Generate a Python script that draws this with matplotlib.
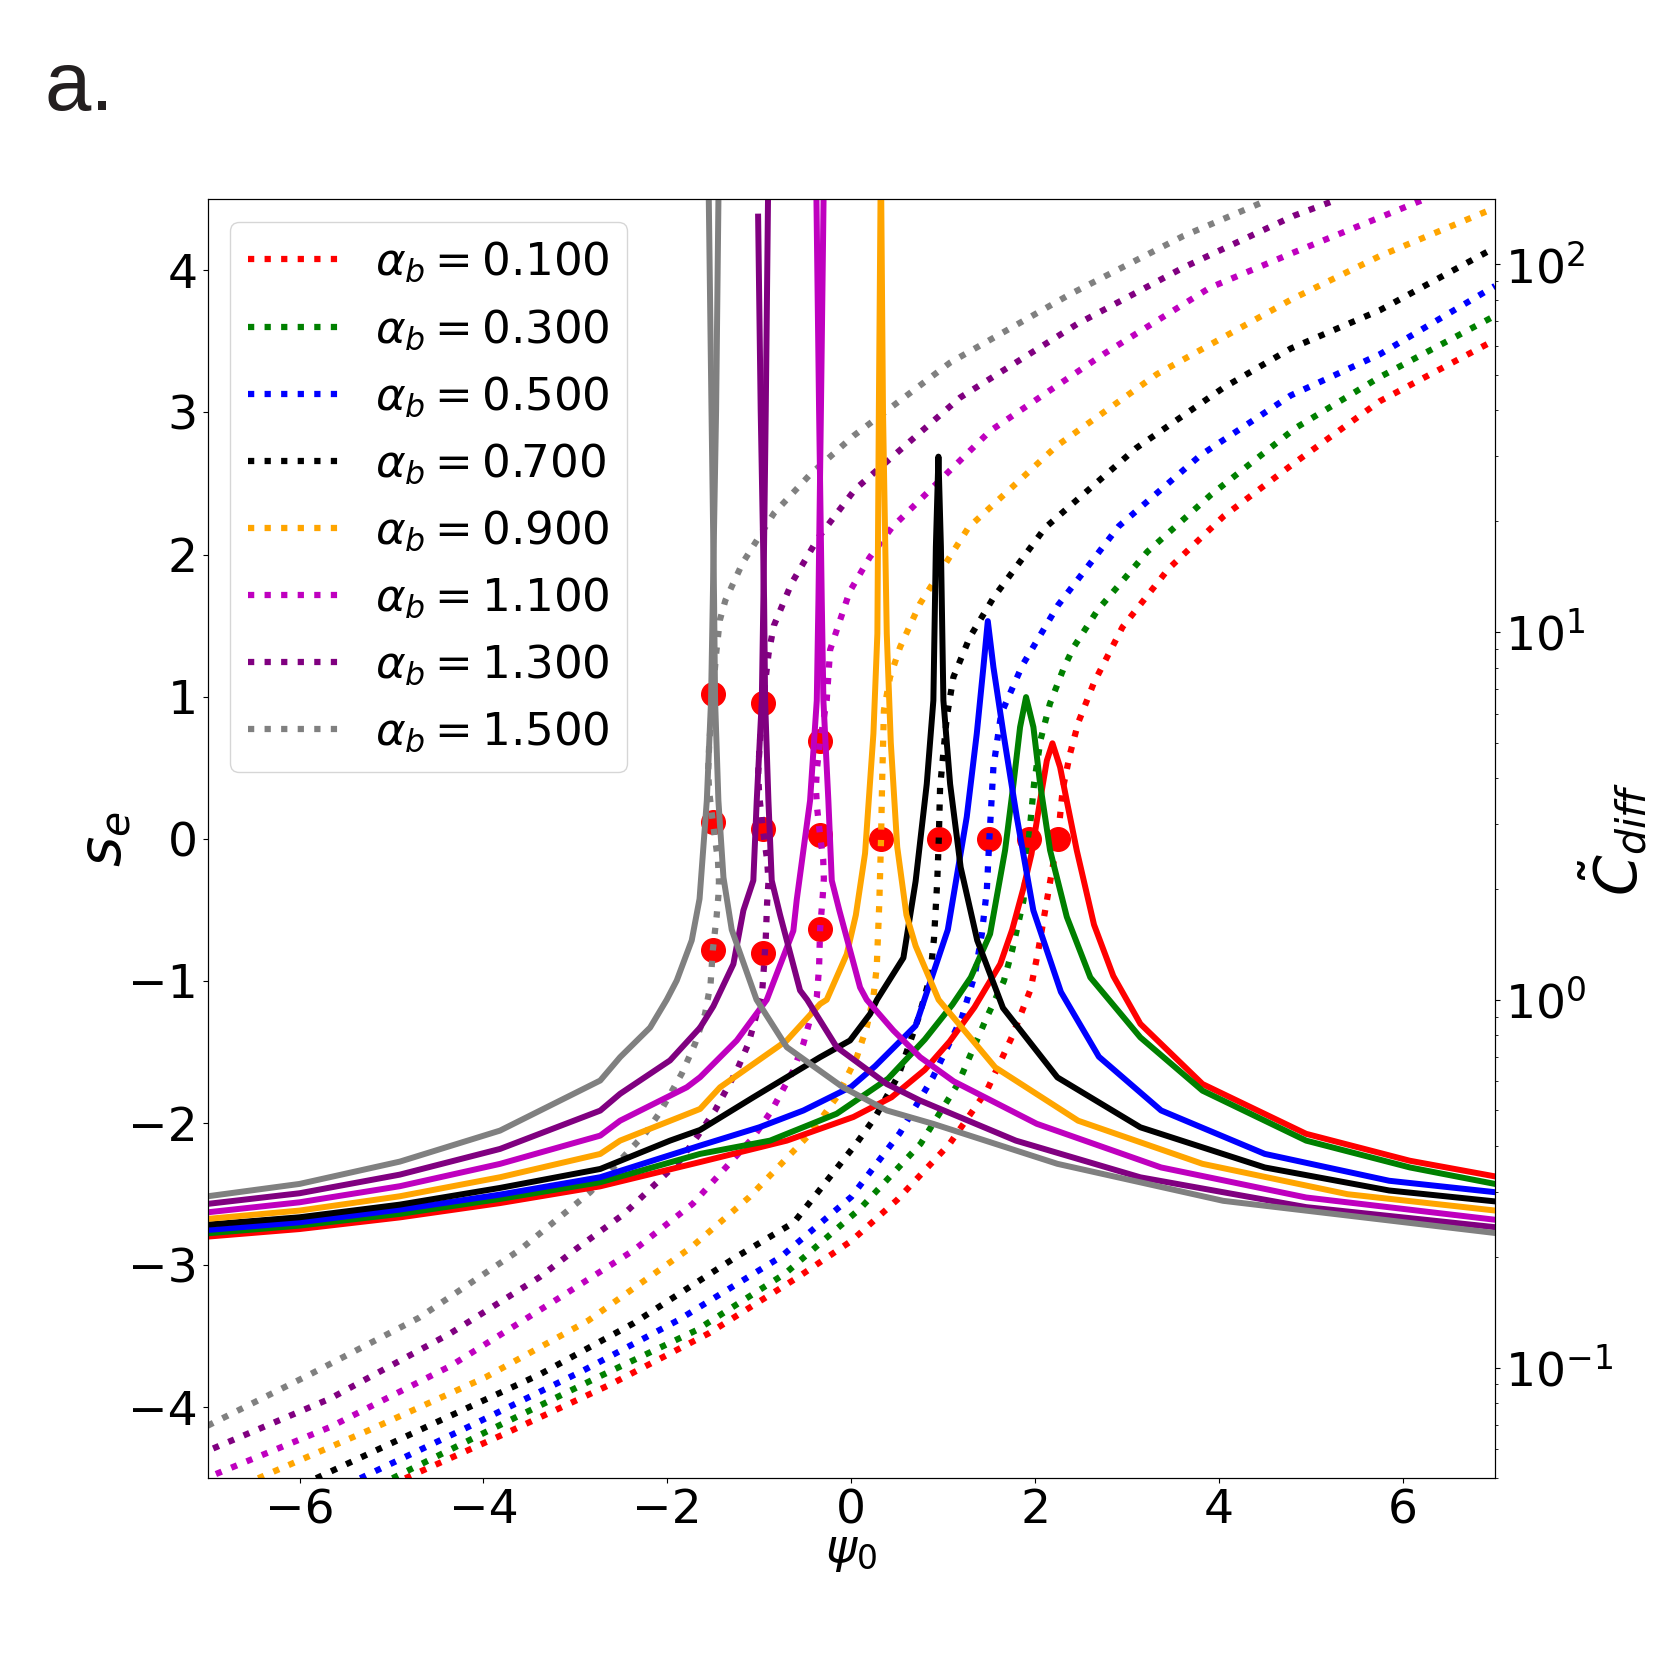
import matplotlib
matplotlib.use("Agg")
import matplotlib.pyplot as plt

# alpha_b values and colours, one per curve pair
alpha_values = [0.1, 0.3, 0.5, 0.7, 0.9, 1.1, 1.3, 1.5]
line_colors = ['red', 'green', 'blue', 'black', 'orange', 'm', 'purple', 'gray']

# ---- s_e against psi_0 (dotted, left axis) ----
se_psi_a01 = [-4.85, -3.78, -2.62, -1.55, -0.58, 0.0, 0.50, 1.07, 1.475, 1.746, 1.95, 2.03, 2.11, 2.19, 2.246,
              2.30, 2.38, 2.47, 2.64, 2.95, 3.45, 4.05, 4.83, 5.75, 7.0]
se_a01 = [-4.5, -4.19, -3.84, -3.48, -3.085, -2.83, -2.54, -2.146, -1.771, -1.396, -1.06, -0.80, -0.50, -0.20, 0.0,
          0.35, 0.60, 0.82, 1.10, 1.49, 1.90, 2.27, 2.65, 3.08, 3.51]

se_psi_a03 = [-4.99, -3.93, -2.76, -1.69, -0.72, 0.10, 0.754, 1.16, 1.475, 1.66, 1.75, 1.873, 1.931, 1.99, 2.06,
              2.16, 2.31, 2.42, 2.68, 3.22, 3.91, 4.83, 5.75, 7.0]
se_a03 = [-4.5, -4.16, -3.79, -3.46, -3.06, -2.60, -2.146, -1.724, -1.255, -1.0, -0.785, -0.433, 0.0, 0.40, 0.70,
          0.95, 1.20, 1.35, 1.61, 2.02, 2.42, 2.89, 3.25, 3.68]

se_psi_a05 = [-5.34, -4.17, -2.91, -1.89, -0.77, 0.0, 0.529, 0.889, 1.204, 1.347, 1.42, 1.474, 1.502, 1.546, 1.63,
              1.86, 2.25, 2.91, 3.80, 4.78, 5.75, 7.0]
se_a05 = [-4.5, -4.14, -3.74, -3.39, -2.944, -2.52, -2.07, -1.677, -1.255, -0.949, -0.668, -0.363, 0.0, 0.505, 0.88,
          1.22, 1.645, 2.20, 2.70, 3.12, 3.41, 3.89]

se_psi_a07 = [-5.82, -4.56, -3.39, -2.37, -1.256, -0.624, 0.06, 0.259, 0.513, 0.731, 0.857, 0.90, 0.935, 0.952,
              0.966, 1.039, 1.111, 1.29, 1.55, 2.11, 3.10, 4.05, 4.78, 5.75, 7.0]
se_a07 = [-4.5, -4.12, -3.77, -3.41, -2.944, -2.70, -2.14, -1.96, -1.665, -1.26, -0.973, -0.70, -0.30, 0.0,
          0.364, 0.857, 1.138, 1.42, 1.70, 2.19, 2.75, 3.175, 3.45, 3.72, 4.16]

se_psi_a09 = [-6.45, -5.24, -3.98, -2.86, -1.74, -1.11, -0.448, -0.158, 0.06, 0.168, 0.241, 0.277, 0.305, 0.324,
              0.336, 0.355, 0.422, 0.531, 0.748, 1.274, 2.235, 3.323, 4.791, 5.745, 7.0]
se_a09 = [-4.5, -4.16, -3.79, -3.39, -2.874, -2.522, -2.076, -1.818, -1.536, -1.325, -1.114, -0.903, -0.45, 0.0,
          0.41, 0.904, 1.138, 1.349, 1.655, 2.19, 2.765, 3.269, 3.797, 4.10, 4.44]

se_psi_a11 = [-6.91, -5.67, -4.36, -3.15, -2.37, -1.724, -1.065, -0.865, -0.63, -0.521, -0.43, -0.375, -0.35,
              -0.339, -0.31, -0.298, -0.305, -0.339, -0.372, -0.385, -0.372, -0.339, -0.267, -0.23, -0.017, 0.20,
              0.441, 1.51, 2.742, 3.903, 4.808, 6.205]
se_a11 = [-4.47, -4.14, -3.71, -3.22, -2.897, -2.568, -2.10, -1.911, -1.63, -1.442, -1.231, -1.114, -0.903,
          -0.638, -0.40, -0.28, -0.15, 0.024, 0.22, 0.36, 0.50, 0.688, 0.974, 1.33, 1.74, 1.98,
          2.19, 2.87, 3.41, 3.879, 4.125, 4.493]

se_psi_a13 = [-6.94, -5.67, -4.36, -3.39, -2.99, -2.47, -2.224, -1.863, -1.68, -1.481, -1.245, -1.119, -1.028,
              -0.973, -0.95, -0.93, -0.915, -0.90, -0.915, -0.962, -1.0, -1.013, -1.0, -0.962, -0.90, -0.842,
              -0.648, -0.357, 0.041, 1.184, 2.453, 3.612, 4.808, 5.29]
se_a13 = [-4.29, -3.94, -3.48, -3.085, -2.885, -2.639, -2.487, -2.264, -2.10, -1.911, -1.63, -1.442, -1.231,
          -1.114, -0.903, -0.70, -0.45, -0.30, -0.15, 0.071, 0.30, 0.45, 0.62, 0.955, 1.30, 1.50,
          1.80, 2.12, 2.459, 3.105, 3.621, 4.02, 4.383, 4.5]

se_psi_a15 = [-7.0, -5.92, -4.70, -3.60, -2.84, -2.243, -2.08, -1.844, -1.699, -1.59, -1.53, -1.506, -1.465,
              -1.445, -1.439, -1.45, -1.506, -1.545, -1.556, -1.546, -1.506, -1.47, -1.43, -1.369, -1.182,
              -0.842, -0.453, 0.023, 1.075, 2.38, 3.612, 4.482]
se_a15 = [-4.13, -3.78, -3.37, -2.89, -2.487, -2.076, -1.924, -1.653, -1.442, -1.231, -1.02, -0.785, -0.55,
          -0.40, -0.30, -0.15, 0.118, 0.33, 0.48, 0.65, 1.016, 1.30, 1.537, 1.678, 1.941,
          2.29, 2.56, 2.835, 3.351, 3.832, 4.242, 4.482]

# ---- C_diff against psi_0 (solid, right log axis) ----
cd_psi_a01 = [-7.0, -6.0, -4.91, -3.82, -2.73, -1.644, -0.701, 0.023, 0.438, 0.80, 1.07, 1.34, 1.62, 1.75, 1.87,
              1.96, 2.054, 2.127, 2.188, 2.271, 2.343, 2.452, 2.64, 2.85, 3.144, 3.82, 4.947, 6.075, 7.0]
cd_a01 = [0.227, 0.238, 0.256, 0.280, 0.311, 0.362, 0.414, 0.48, 0.543, 0.645, 0.77, 0.954, 1.25, 1.55, 2.0,
          2.49, 3.48, 4.47, 4.98, 4.29, 3.48, 2.55, 1.60, 1.16, 0.86, 0.59, 0.432, 0.365, 0.331]

cd_psi_a03 = [-7.0, -6.0, -4.91, -3.82, -2.73, -1.644, -0.883, -0.158, 0.40, 0.80, 1.10, 1.30, 1.51, 1.673,
              1.764, 1.836, 1.901, 1.981, 2.054, 2.162, 2.344, 2.60, 3.144, 3.82, 4.947, 6.075, 7.0]
cd_a03 = [0.2317, 0.2432, 0.2617, 0.2874, 0.3191, 0.381, 0.414, 0.49, 0.61, 0.78, 0.97, 1.15, 1.51, 2.55,
          3.86, 5.51, 6.65, 5.51, 3.86, 2.55, 1.68, 1.15, 0.79, 0.566, 0.414, 0.350, 0.3157]

cd_psi_a05 = [-7.0, -6.0, -4.91, -3.82, -2.73, -1.644, -1.0, -0.52, 0.0, 0.26, 0.70, 1.05, 1.256, 1.365, 1.437,
              1.485, 1.546, 1.655, 1.80, 1.98, 2.28, 2.693, 3.37, 4.497, 5.85, 7.0]
cd_a05 = [0.2366, 0.2483, 0.2689, 0.2953, 0.3292, 0.4013, 0.45, 0.50, 0.58, 0.66, 0.85, 1.55, 3.14, 5.29, 8.02,
          10.7, 8.02, 5.29, 3.14, 1.75, 1.05, 0.70, 0.50, 0.381, 0.322, 0.2998]

cd_psi_a07 = [-7.0, -6.0, -4.91, -3.82, -2.73, -1.971, -1.644, -1.065, -0.339, -0.013, 0.205, 0.28, 0.567, 0.70,
              0.821, 0.893, 0.92, 0.948, 0.975, 1.002, 1.075, 1.19, 1.37, 1.65, 2.242, 3.144, 4.497, 5.85, 7.0]
cd_a07 = [0.2447, 0.2562, 0.2773, 0.3079, 0.3467, 0.414, 0.4426, 0.543, 0.698, 0.775, 0.915, 1.0, 1.30, 2.1,
          3.86, 6.51, 17.0, 29.96, 17.0, 6.51, 3.86, 2.29, 1.45, 0.95, 0.615, 0.45, 0.35, 0.303, 0.283]

cd_psi_a09 = [-7.0, -6.0, -4.91, -3.82, -2.73, -2.514, -1.644, -1.427, -0.701, -0.339, -0.267, -0.049, 0.05,
              0.15, 0.241, 0.284, 0.30, 0.322, 0.345, 0.386, 0.43, 0.50, 0.60, 0.70, 0.95, 1.565, 2.467, 3.82,
              5.398, 7.0]
cd_a09 = [0.2536, 0.2672, 0.2922, 0.3292, 0.3809, 0.414, 0.5048, 0.578, 0.775, 0.974, 1.0, 1.33, 1.7,
          2.5, 5.29, 9.9, 40.0, 200.0, 40.0, 9.9, 5.0, 2.6, 1.70, 1.40, 1.0, 0.655, 0.469, 0.358,
          0.296, 0.2673]

# alpha_b > 1: the two branches either side of the fold
cd_lo_psi_a11 = [-7.0, -6.0, -4.91, -3.82, -2.73, -2.514, -1.789, -1.644, -1.245, -0.919, -0.63, -0.593, -0.448,
                 -0.375, -0.357, -0.33, -0.295]
cd_lo_a11 = [0.2643, 0.2814, 0.3112, 0.3579, 0.4272, 0.469, 0.578, 0.6158, 0.775, 1.0, 1.54, 1.87, 3.48,
             6.51, 12.2, 40.0, 200.0]
cd_hi_psi_a11 = [-0.385, -0.35, -0.321, -0.303, -0.249, -0.212, -0.13, 0.096, 0.168, 0.458, 0.749, 1.114, 2.017,
                 3.369, 4.947, 7.0]
cd_hi_a11 = [200.0, 40.0, 12.2, 6.51, 3.48, 2.11, 1.75, 1.08, 1.0, 0.825, 0.698, 0.60, 0.46,
             0.35, 0.290, 0.2523]

cd_lo_psi_a13 = [-7.0, -6.0, -4.91, -3.82, -2.73, -2.514, -1.971, -1.644, -1.5, -1.282, -1.173, -1.065, -1.028,
                 -0.973, -0.956, -0.93, -0.90]
cd_lo_a13 = [0.2786, 0.2978, 0.3346, 0.393, 0.4996, 0.555, 0.684, 0.84, 0.96, 1.25, 1.75, 2.11, 3.48,
             6.51, 12.2, 40.0, 200.0]
cd_hi_psi_a13 = [-1.013, -0.985, -0.948, -0.937, -0.901, -0.865, -0.774, -0.557, -0.48, -0.158, 0.386, 0.749, 1.79,
                 3.144, 4.947, 7.0]
cd_hi_a13 = [134.6, 40.0, 12.2, 6.51, 3.48, 2.11, 1.7, 1.06, 1.0, 0.743, 0.59, 0.532, 0.414,
             0.329, 0.273, 0.2408]

cd_lo_psi_a15 = [-7.0, -6.0, -4.91, -3.82, -2.73, -2.514, -2.188, -2.007, -1.898, -1.735, -1.65, -1.571, -1.525,
                 -1.506, -1.47, -1.439]
cd_lo_a15 = [0.2922, 0.3157, 0.363, 0.4408, 0.6031, 0.698, 0.84, 1.0, 1.128, 1.45, 1.88, 3.48, 6.51,
             12.2, 40.0, 200.0]
cd_hi_psi_a15 = [-1.556, -1.52, -1.492, -1.481, -1.445, -1.39, -1.30, -1.03, -0.701, -0.09, 0.386, 0.889, 2.242,
                 4.045, 7.0]
cd_hi_a15 = [200.0, 40.0, 12.2, 6.51, 3.48, 2.15, 1.55, 1.0, 0.743, 0.578, 0.50, 0.46, 0.358,
             0.284, 0.2322]

# fixed points (red dots)
fp_psi = [2.246, 1.931, 1.502, 0.952, 0.324, -0.339, -0.339, -0.339, -0.962, -0.962, -0.962, -1.506, -1.506, -1.506]
fp_se = [0.0, 0.0, 0.0, 0.0, 0.0, -0.638, 0.024, 0.688, -0.804, 0.071, 0.955, -0.785, 0.118, 1.016]


se_curves = [(se_psi_a01, se_a01), (se_psi_a03, se_a03), (se_psi_a05, se_a05), (se_psi_a07, se_a07),
             (se_psi_a09, se_a09), (se_psi_a11, se_a11), (se_psi_a13, se_a13), (se_psi_a15, se_a15)]
cd_curves = [[(cd_psi_a01, cd_a01)], [(cd_psi_a03, cd_a03)], [(cd_psi_a05, cd_a05)], [(cd_psi_a07, cd_a07)],
             [(cd_psi_a09, cd_a09)],
             [(cd_lo_psi_a11, cd_lo_a11), (cd_hi_psi_a11, cd_hi_a11)],
             [(cd_lo_psi_a13, cd_lo_a13), (cd_hi_psi_a13, cd_hi_a13)],
             [(cd_lo_psi_a15, cd_lo_a15), (cd_hi_psi_a15, cd_hi_a15)]]

fig = plt.figure(figsize=(16.61, 16.61), dpi=100)
ax = fig.add_subplot(111)

ax.plot(fp_psi, fp_se, 'o', color='red', markersize=17, zorder=1)

for i in range(len(alpha_values)):
    psi, se = se_curves[i]
    ax.plot(psi, se, ':', color=line_colors[i], linewidth=4.5, zorder=2,
            label=r'$\alpha_b = %.3f$' % alpha_values[i])

ax.set_xlim(-7, 7)
ax.set_ylim(-4.5, 4.5)
ax.set_yticks([-4, -3, -2, -1, 0, 1, 2, 3, 4])
ax.tick_params(labelsize=34)
ax.set_xlabel(r'$\psi_0$', fontsize=34)
ax.set_ylabel(r'$s_e$', fontsize=42)
ax.xaxis.set_label_coords(0.5, -0.040)
ax.yaxis.set_label_coords(-0.058, 0.5)
ax.legend(loc='upper left', fontsize=32.5)

ax2 = ax.twinx()
for i in range(len(alpha_values)):
    for psi, cd in cd_curves[i]:
        ax2.plot(psi, cd, '-', color=line_colors[i], linewidth=4.3)
ax2.set_yscale('log')
ax2.set_ylim(0.05, 150)
ax2.set_xlim(-7, 7)
ax2.tick_params(labelsize=34)
ax2.set_ylabel(r'$\tilde{C}_{diff}$', fontsize=42)
ax2.yaxis.set_label_coords(1.064, 0.5)

fig.text(0.027, 0.934, 'a.', fontsize=60, family='Liberation Sans', color='#231f20', va='baseline')

fig.savefig('out.png', dpi=100)
